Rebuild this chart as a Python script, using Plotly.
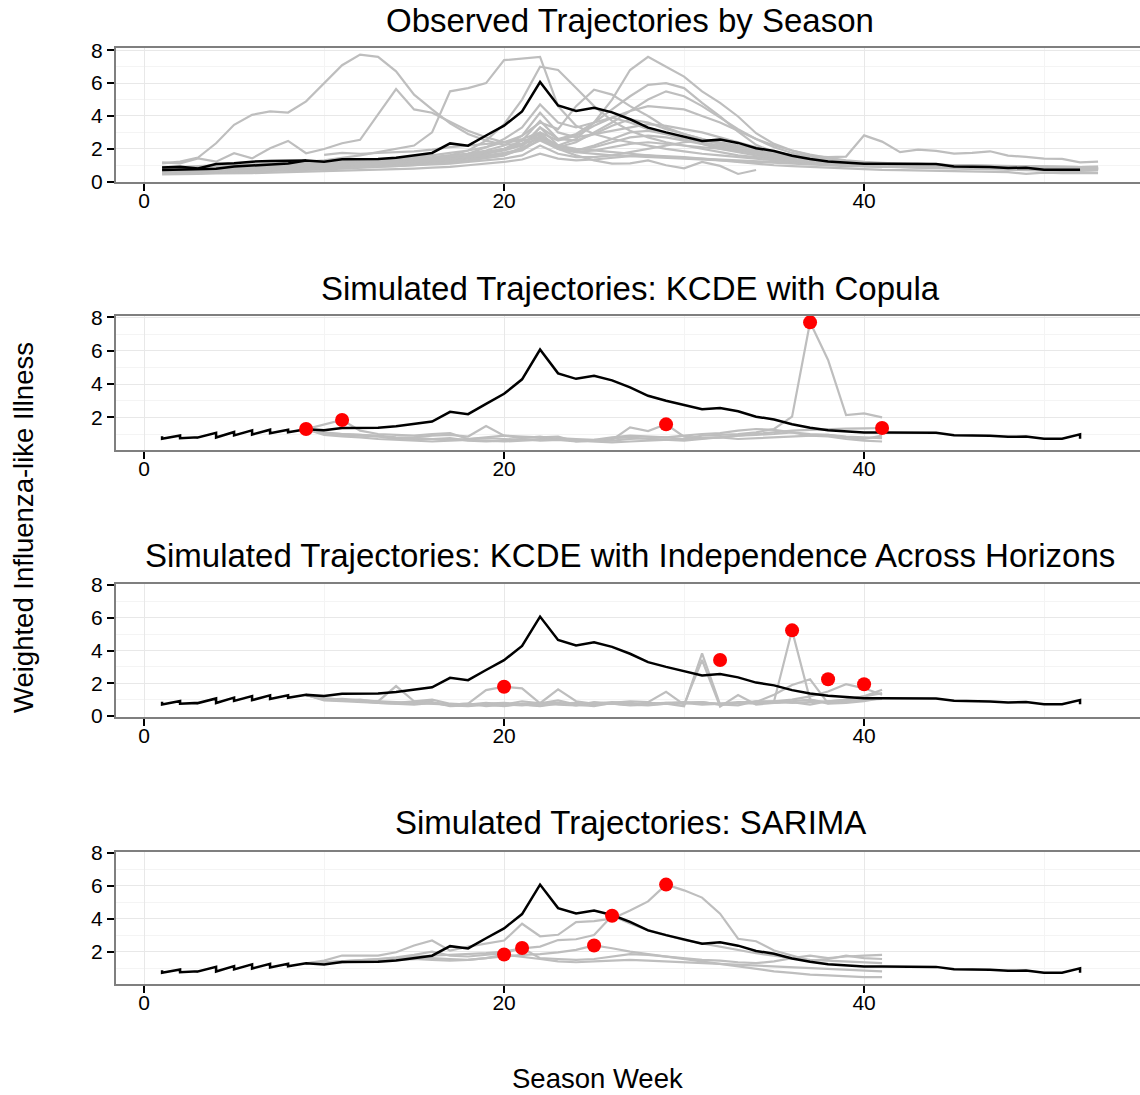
import plotly.graph_objects as go

# ---------------- current season (black line) ----------------
current_weeks = list(range(1, 53))
current_wili = [0.71, 0.75, 0.79, 0.79, 0.92, 0.97, 1.04, 1.11, 1.29, 1.22,
                1.36, 1.36, 1.38, 1.46, 1.59, 1.75, 2.33, 2.19, 2.81, 3.41,
                4.28, 6.07, 4.64, 4.31, 4.50, 4.22, 3.80, 3.29, 3.00, 2.72,
                2.48, 2.56, 2.36, 2.04, 1.87, 1.58, 1.38, 1.23, 1.15, 1.09,
                1.09, 1.07, 1.05, 1.07, 0.93, 0.92, 0.89, 0.83, 0.85, 0.72,
                0.72, 0.72]
# second reported value for the weeks that appear twice in the data
alt_weeks = [1, 2, 3, 4, 5, 6, 7, 8, 9, 52]
alt_wili = [0.87, 0.91, 0.80, 1.07, 1.12, 1.22, 1.26, 1.26, 1.29, 0.98]

# ---------------- past seasons (grey lines) ----------------
season_weeks = list(range(1, 54))
N = None
season_p = [1.12, 1.22, 1.47, 2.34, 3.46, 4.07, 4.28, 4.21, 4.89, 6.01,
            7.09, 7.74, 7.60, 6.72, 5.30, 4.40, 3.55, 2.90, 2.50, 2.25,
            2.30, 2.60, 2.00, 1.80, 1.70, 1.60, 1.55, 1.50, 1.45, 1.40,
            1.35, 1.30, 1.25, 1.20, 1.15, 1.10, 1.05, 1.00, 0.95, 0.95,
            0.92, 0.90, 0.90, 0.88, 0.85, 0.85, 0.82, 0.80, 0.80, 0.78,
            0.75, 0.75, 0.78]
season_q = [1.18, 1.12, 1.42, 1.22, 1.73, 1.42, 2.03, 2.48, 1.73, 1.99,
            2.34, 2.55, 4.10, 5.64, 4.40, 4.20, 3.65, 3.10, 2.70, 2.40,
            2.50, 2.70, 2.20, 2.00, 1.90, 1.80, 1.70, 1.60, 1.50, 1.45,
            1.40, 1.35, 1.30, 1.25, 1.20, 1.15, 1.10, 1.05, 1.00, 1.00,
            0.98, 0.95, 0.95, 0.92, 0.90, 0.90, 0.88, 0.85, 0.85, 0.82,
            0.80, 0.80, 0.82]
season_r = [0.80, 0.85, 0.90, 0.95, 1.00, 1.05, 1.10, 1.15, 1.20, 1.30,
            1.45, 1.60, 1.80, 2.00, 2.20, 3.00, 5.50, 5.70, 6.00, 7.40,
            7.50, 7.60, 4.60, 3.40, 2.90, 2.60, 2.40, 2.20, 2.00, 1.85,
            1.70, 1.60, 1.50, 1.40, 1.30, 1.20, 1.15, 1.10, 1.05, 1.00,
            0.98, 0.95, 0.92, 0.90, 0.90, 0.88, 0.85, 0.85, 0.82, 0.80,
            0.80, 0.78, 0.80]
season_t = [0.60, 0.60, 0.65, 0.70, 0.75, 0.80, 0.85, 0.90, 0.95, 1.00,
            1.05, 1.10, 1.15, 1.20, 1.30, 1.45, 1.60, 1.90, 2.50, 3.50,
            5.00, 7.00, 6.80, 5.70, 4.60, 3.70, 3.10, 2.70, 2.40, 2.20,
            2.00, 1.80, 1.60, 1.50, 1.40, 1.30, 1.20, 1.10, 1.05, 1.00,
            0.95, 0.90, 0.90, 0.85, 0.85, 0.80, 0.80, 0.75, 0.75, 0.72,
            0.70, 0.70, 0.72]
season_u = [0.50, 0.50, 0.55, 0.55, 0.60, 0.65, 0.70, 0.70, 0.75, 0.80,
            0.85, 0.90, 0.95, 1.00, 1.05, 1.10, 1.20, 1.30, 1.45, 1.60,
            2.00, 2.80, 2.20, 2.60, 3.60, 5.00, 6.80, 7.60, 7.00, 6.40,
            5.50, 4.80, 3.97, 2.95, 2.30, 1.90, 1.60, 1.40, 1.25, 1.15,
            1.10, 1.05, 1.00, 1.00, 0.95, 0.92, 0.90, 0.88, 0.85, 0.82,
            0.80, 0.78, 0.80]
season_u2 = [0.70, 0.72, 0.75, 0.80, 0.85, 0.90, 0.95, 1.00, 1.05, 1.10,
             1.15, 1.20, 1.25, 1.30, 1.35, 1.40, 1.50, 1.60, 1.70, 1.90,
             2.20, 3.30, 2.60, 2.90, 3.60, 4.40, 5.20, 5.90, 6.00, 5.70,
             4.80, 3.97, 3.05, 2.24, 1.80, 1.55, 1.40, 1.30, 1.20, 1.15,
             1.10, 1.05, 1.00, 1.00, 0.95, 0.95, 0.90, 0.90, 0.88, 0.85,
             0.85, 0.82, 0.85]
season_v = [0.80, 0.85, 0.90, 0.90, 0.95, 1.00, 1.05, 1.10, 1.15, 1.20,
            1.25, 1.30, 1.35, 1.40, 1.50, 1.60, 1.75, 1.90, 2.10, 2.40,
            2.80, 3.60, 3.20, 4.60, 5.60, 5.30, 4.60, 4.00, 3.30, 2.90,
            2.60, 2.30, 2.00, 1.80, 1.60, 1.45, 1.35, 1.25, 1.20, 1.15,
            1.10, 1.10, 1.05, 1.05, 1.00, 1.00, 0.95, 0.95, 0.92, 0.90,
            0.90, 0.88, 0.90]
season_u3 = [0.55, 0.55, 0.60, 0.62, 0.65, 0.70, 0.72, 0.75, 0.80, 0.85,
             0.90, 0.95, 1.00, 1.05, 1.10, 1.20, 1.30, 1.40, 1.55, 1.70,
             1.90, 2.60, 2.10, 2.40, 3.00, 3.60, 4.30, 5.00, 5.50, 5.20,
             4.60, 3.90, 3.20, 2.60, 2.10, 1.75, 1.50, 1.30, 1.20, 1.10,
             1.05, 1.00, 0.98, 0.95, 0.92, 0.90, 0.88, 0.85, 0.82, 0.80,
             0.80, 0.78, 0.80]
season_u4 = [0.90, 0.90, 0.95, 1.00, 1.00, 1.05, 1.10, 1.10, 1.15, 1.20,
             1.25, 1.30, 1.35, 1.40, 1.45, 1.50, 1.60, 1.70, 1.80, 2.00,
             2.30, 3.00, 2.50, 2.80, 3.40, 3.90, 4.30, 4.60, 4.50, 4.40,
             4.00, 3.60, 3.10, 2.60, 2.20, 1.90, 1.65, 1.45, 1.30, 1.20,
             1.15, 1.10, 1.10, 1.05, 1.00, 1.00, 0.98, 0.95, 0.92, 0.90,
             0.90, 0.88, 0.90]
season_b1 = [0.60, 0.62, 0.65, 0.70, 0.72, 0.75, 0.80, 0.85, 0.90, 0.95,
             1.00, 1.05, 1.10, 1.15, 1.20, 1.30, 1.45, 1.70, 2.10, 2.60,
             3.30, 4.70, 3.60, 3.30, 3.60, 3.90, 3.60, 3.20, 2.90, 2.60,
             2.30, 2.00, 1.80, 1.60, 1.45, 1.30, 1.20, 1.10, 1.00, 0.95,
             0.90, 0.90, 0.85, 0.85, 0.82, 0.80, 0.80, 0.78, 0.75, 0.75,
             0.72, 0.70, 0.72]
season_b2 = [0.75, 0.75, 0.80, 0.82, 0.85, 0.90, 0.95, 1.00, 1.00, 1.05,
             1.10, 1.15, 1.20, 1.25, 1.30, 1.40, 1.55, 1.70, 1.90, 2.20,
             2.80, 4.20, 3.00, 2.70, 2.90, 3.10, 3.30, 3.50, 3.40, 3.20,
             3.00, 2.70, 2.40, 2.10, 1.80, 1.60, 1.40, 1.30, 1.20, 1.10,
             1.05, 1.00, 1.00, 0.95, 0.95, 0.92, 0.90, 0.90, 0.88, 0.85,
             0.85, 0.82, 0.85]
season_b3 = [0.65, 0.65, 0.68, 0.70, 0.72, 0.75, 0.78, 0.80, 0.85, 0.90,
             0.95, 1.00, 1.05, 1.10, 1.15, 1.25, 1.35, 1.50, 1.70, 2.00,
             2.50, 3.70, 2.60, 2.50, 2.90, 3.40, 3.80, 3.60, 3.20, 2.90,
             2.60, 2.30, 2.10, 1.90, 1.70, 1.50, 1.35, 1.25, 1.15, 1.05,
             1.00, 0.98, 0.95, 0.92, 0.90, 0.88, 0.85, 0.82, 0.80, 0.78,
             0.78, 0.75, 0.78]
season_b4 = [0.50, 0.50, 0.52, 0.55, 0.58, 0.60, 0.62, 0.65, 0.70, 0.75,
             0.80, 0.85, 0.90, 0.95, 1.00, 1.10, 1.20, 1.30, 1.45, 1.60,
             2.10, 3.30, 2.20, 1.90, 2.10, 2.40, 2.70, 2.80, 2.70, 2.50,
             2.30, 2.10, 1.90, 1.70, 1.50, 1.35, 1.20, 1.10, 1.00, 0.95,
             0.90, 0.88, 0.85, 0.82, 0.80, 0.78, 0.75, 0.72, 0.70, 0.68,
             0.65, 0.65, 0.68]
season_b5 = [0.85, 0.85, 0.88, 0.90, 0.92, 0.95, 1.00, 1.00, 1.05, 1.10,
             1.15, 1.20, 1.25, 1.30, 1.35, 1.45, 1.55, 1.65, 1.80, 2.00,
             2.30, 2.90, 2.10, 1.80, 1.90, 2.10, 2.30, 2.40, 2.30, 2.20,
             2.10, 2.00, 1.90, 1.75, 1.60, 1.45, 1.35, 1.25, 1.20, 1.15,
             1.10, 1.05, 1.05, 1.00, 1.00, 0.98, 0.95, 0.95, 0.92, 0.90,
             0.90, 0.88, 0.90]
season_b6 = [0.60, 0.60, 0.62, 0.65, 0.68, 0.70, 0.72, 0.75, 0.78, 0.80,
             0.85, 0.90, 0.92, 0.95, 1.00, 1.05, 1.10, 1.20, 1.30, 1.40,
             1.60, 2.20, 1.70, 1.50, 1.50, 1.60, 1.80, 2.00, 2.20, 2.40,
             2.50, 2.40, 2.20, 2.00, 1.80, 1.60, 1.45, 1.30, 1.20, 1.10,
             1.05, 1.00, 0.95, 0.92, 0.90, 0.88, 0.85, 0.82, 0.80, 0.78,
             0.76, 0.75, 0.76]
season_late = [0.70, 0.70, 0.72, 0.75, 0.78, 0.80, 0.85, 0.90, 0.95, 1.00,
               1.05, 1.10, 1.15, 1.20, 1.25, 1.30, 1.40, 1.50, 1.60, 1.75,
               2.00, 2.50, 2.00, 1.90, 2.20, 2.60, 3.00, 3.10, 2.90, 2.60,
               2.40, 2.20, 2.00, 1.80, 1.70, 1.60, 1.55, 1.50, 1.53, 2.82,
               2.44, 1.80, 1.95, 1.87, 1.71, 1.75, 1.85, 1.59, 1.51, 1.40,
               1.39, 1.18, 1.22]
season_short = [N, N, N, N, N, N, N, N, N, 1.63,
                1.75, 1.70, 1.75, 1.80, 1.85, 1.95, 2.10, 2.20, 2.30, 2.40,
                2.60, 3.00, 2.00, 1.60, 1.30, 1.10, 1.12, 1.30, 1.00, 0.81,
                1.20, 0.96, 0.47, 0.71, N, N, N, N, N, N,
                N, N, N, N, N, N, N, N, N, N,
                N, N, N]
season_low = [0.45, 0.45, 0.48, 0.50, 0.50, 0.52, 0.55, 0.58, 0.60, 0.62,
              0.65, 0.70, 0.72, 0.75, 0.80, 0.85, 0.90, 1.00, 1.10, 1.20,
              1.35, 1.70, 1.40, 1.30, 1.35, 1.45, 1.55, 1.60, 1.55, 1.50,
              1.40, 1.30, 1.20, 1.10, 1.00, 0.95, 0.90, 0.85, 0.80, 0.75,
              0.72, 0.70, 0.68, 0.65, 0.62, 0.60, 0.60, 0.58, 0.48, 0.55,
              0.52, 0.50, 0.52]
past_seasons = [season_p, season_q, season_r, season_t, season_u, season_u2,
                season_v, season_u3, season_u4, season_b1, season_b2, season_b3,
                season_b4, season_b5, season_b6, season_late, season_short,
                season_low]

# ---------------- simulated trajectories (weeks 9-41) ----------------
sim_weeks = list(range(9, 42))

copula_trajectories = [
    [1.29, 1.00, 0.95, 0.90, 0.85, 0.70, 0.65, 0.70, 0.75, 0.60, 0.55,
     0.60, 0.70, 0.60, 0.65, 0.55, 0.60, 0.75, 0.80, 0.70, 0.65, 0.60,
     0.70, 0.80, 0.90, 0.95, 1.00, 1.10, 0.90, 0.85, 0.70, 0.60, 0.55],
    [1.29, 1.58, 1.84, 1.20, 1.00, 0.95, 0.90, 1.00, 1.05, 0.70, 0.80,
     0.90, 0.75, 0.85, 0.70, 0.60, 0.65, 0.80, 0.90, 0.85, 0.80, 0.90,
     1.00, 1.05, 1.20, 1.30, 1.25, 1.10, 1.00, 0.95, 0.85, 0.80, 0.75],
    [1.29, 1.10, 1.00, 0.95, 0.85, 0.75, 0.80, 0.90, 0.95, 0.85, 1.48,
     0.90, 0.85, 0.80, 0.85, 0.55, 0.60, 0.65, 1.40, 1.18, 1.58, 0.84,
     0.75, 0.80, 0.70, 0.75, 0.80, 0.85, 0.90, 0.95, 0.80, 0.70, 0.90],
    [1.29, 1.05, 1.00, 0.95, 0.90, 0.80, 0.75, 0.70, 0.65, 0.70, 0.75,
     0.70, 0.65, 0.70, 0.75, 0.70, 0.65, 0.60, 0.70, 0.75, 0.80, 0.70,
     0.90, 0.95, 1.00, 1.10, 1.30, 2.04, 7.70, 5.44, 2.14, 2.24, 2.00],
    [1.29, 0.95, 0.85, 0.80, 0.70, 0.65, 0.60, 0.55, 0.60, 0.65, 0.60,
     0.55, 0.60, 0.65, 0.70, 0.60, 0.55, 0.50, 0.55, 0.60, 0.65, 0.70,
     0.75, 0.80, 0.90, 1.00, 1.10, 1.20, 1.25, 1.30, 1.32, 1.34, 1.36],
]
copula_peak_weeks = [9, 11, 29, 37, 41]
copula_peak_wili = [1.30, 1.84, 1.58, 7.70, 1.36]

indep_trajectories = [
    [1.29, 1.00, 1.05, 0.95, 0.90, 1.83, 0.90, 0.85, 0.60, 0.65, 0.70,
     0.60, 0.75, 0.80, 0.70, 0.65, 0.85, 0.75, 0.70, 0.80, 0.75, 0.60,
     3.83, 0.70, 0.65, 0.90, 0.80, 0.85, 0.70, 0.90, 1.00, 1.20, 1.60],
    [1.29, 1.05, 0.95, 1.00, 0.85, 0.80, 0.90, 1.00, 0.75, 0.70, 0.80,
     0.70, 0.90, 0.78, 0.95, 0.70, 0.60, 0.80, 0.90, 0.85, 1.48, 0.70,
     3.42, 0.57, 1.28, 0.70, 0.80, 0.90, 1.00, 0.80, 0.90, 1.00, 1.10],
    [1.29, 0.95, 0.90, 0.85, 0.80, 0.75, 0.70, 0.80, 0.65, 0.60, 0.70,
     0.65, 0.70, 0.60, 0.75, 0.80, 0.70, 0.75, 0.65, 0.70, 0.80, 0.75,
     0.85, 0.70, 0.80, 0.90, 0.90, 5.23, 1.00, 0.75, 0.80, 0.90, 1.10],
    [1.29, 1.10, 1.00, 0.95, 0.90, 0.85, 0.80, 0.75, 0.70, 0.75, 0.60,
     0.70, 0.65, 0.75, 0.80, 0.65, 0.70, 0.80, 0.70, 0.75, 0.80, 0.85,
     0.80, 0.75, 0.85, 0.85, 1.30, 1.89, 2.24, 0.77, 1.00, 1.20, 1.40],
    [1.29, 1.00, 0.95, 0.90, 0.80, 0.75, 0.85, 0.80, 0.70, 0.65, 0.75,
     0.80, 0.70, 0.65, 0.75, 0.70, 0.80, 0.75, 0.70, 0.65, 0.75, 0.80,
     0.70, 0.75, 0.80, 0.85, 0.90, 1.00, 1.20, 1.50, 1.94, 1.69, 1.30],
    [1.29, 1.05, 1.00, 0.90, 0.85, 0.80, 0.75, 0.80, 0.70, 0.75, 1.58,
     1.79, 1.69, 0.78, 1.63, 0.90, 0.75, 0.85, 0.80, 0.70, 0.75, 0.80,
     0.85, 0.70, 0.80, 0.75, 0.90, 0.80, 0.85, 0.90, 0.95, 1.00, 1.05],
]
indep_peak_weeks = [20, 32, 36, 38, 40]
indep_peak_wili = [1.79, 3.42, 5.23, 2.24, 1.94]

sarima_trajectories = [
    [1.29, 1.45, 1.76, 1.76, 1.76, 1.96, 2.37, 2.67, 2.06, 2.30, 2.50,
     2.67, 3.69, 2.93, 3.02, 3.79, 3.85, 4.00, 4.50, 5.05, 6.07, 5.72,
     5.28, 4.30, 2.78, 2.63, 2.06, 1.76, 1.45, 1.55, 1.75, 1.60, 1.55],
    [1.29, 1.35, 1.45, 1.50, 1.55, 1.60, 1.70, 1.75, 1.80, 1.85, 1.90,
     2.00, 2.20, 2.30, 2.70, 2.75, 3.00, 4.18, 3.70, 3.30, 3.00, 2.70,
     2.50, 2.30, 2.10, 1.90, 1.75, 1.60, 1.50, 1.45, 1.40, 1.35, 1.30],
    [1.29, 1.30, 1.35, 1.40, 1.45, 1.50, 1.55, 1.60, 1.55, 1.50, 1.60,
     1.70, 1.80, 1.85, 1.95, 2.10, 2.37, 2.20, 2.00, 1.85, 1.70, 1.55,
     1.40, 1.25, 1.10, 0.95, 0.80, 0.70, 0.60, 0.55, 0.50, 0.45, 0.45],
    [1.29, 1.35, 1.40, 1.50, 1.55, 1.65, 1.80, 2.00, 1.75, 1.70, 1.80,
     1.90, 2.22, 1.60, 1.55, 1.50, 1.55, 1.70, 1.85, 1.80, 1.70, 1.60,
     1.50, 1.45, 1.35, 1.30, 1.40, 1.60, 1.75, 1.60, 1.70, 1.75, 1.80],
    [1.29, 1.30, 1.35, 1.40, 1.45, 1.50, 1.55, 1.50, 1.45, 1.50, 1.60,
     1.82, 1.70, 1.55, 1.40, 1.35, 1.40, 1.45, 1.50, 1.45, 1.40, 1.35,
     1.30, 1.25, 1.20, 1.15, 1.10, 1.05, 1.00, 0.95, 0.90, 0.85, 0.80],
]
sarima_peak_weeks = [20, 21, 25, 26, 29]
sarima_peak_wili = [1.82, 2.22, 2.37, 4.18, 6.07]

panel_titles = ["Observed Trajectories by Season",
                "Simulated Trajectories: KCDE with Copula",
                "Simulated Trajectories: KCDE with Independence Across Horizons",
                "Simulated Trajectories: SARIMA"]
x_tick_values = [0, 20, 40]
x_label = "Season Week"
y_label = "Weighted Influenza-like Illness"

# ---------------- styling ----------------
FONT = "Liberation Sans, Arial, Helvetica, sans-serif"
GREY_LINE = "#bebebe"
BORDER = "#7f7f7f"
W, H = 1140, 1095

# panel boxes in pixels: (top, bottom)
panel_px = [(48, 182), (316, 450), (584, 716.5), (852, 984)]
y_ranges = [[-0.02, 8.14], [0.04, 8.08], [-0.03, 8.06], [0.03, 8.05]]
y_ticks = [[0, 2, 4, 6, 8], [2, 4, 6, 8], [0, 2, 4, 6, 8], [2, 4, 6, 8]]
title_centre_px = [20, 288, 555, 822]

# merged current-season series, as used in the simulated panels
merged_x, merged_y = [], []
alt_lookup = dict(zip(alt_weeks, alt_wili))
for wk, val in zip(current_weeks, current_wili):
    if wk in alt_lookup:
        merged_x.append(wk)
        merged_y.append(alt_lookup[wk])
    merged_x.append(wk)
    merged_y.append(val)

fig = go.Figure()


def axis_names(i):
    return ("x" if i == 0 else f"x{i+1}", "y" if i == 0 else f"y{i+1}")


def add_grey(i, xs, ys):
    xa, ya = axis_names(i)
    fig.add_trace(go.Scatter(x=xs, y=ys, mode="lines",
                             line=dict(color=GREY_LINE, width=2.2),
                             xaxis=xa, yaxis=ya, hoverinfo="skip",
                             showlegend=False, connectgaps=False))


def add_black(i, xs, ys):
    xa, ya = axis_names(i)
    fig.add_trace(go.Scatter(x=xs, y=ys, mode="lines",
                             line=dict(color="black", width=2.5),
                             xaxis=xa, yaxis=ya, hoverinfo="skip",
                             showlegend=False))


def add_red(i, xs, ys):
    xa, ya = axis_names(i)
    fig.add_trace(go.Scatter(x=xs, y=ys, mode="markers",
                             marker=dict(color="#ff0000", size=14),
                             xaxis=xa, yaxis=ya, hoverinfo="skip",
                             showlegend=False))


# panel 1: observed seasons
for s in past_seasons:
    add_grey(0, season_weeks, s)
add_black(0, current_weeks, current_wili)
add_black(0, alt_weeks[:9], alt_wili[:9])

# simulated panels
sim_sets = [(copula_trajectories, copula_peak_weeks, copula_peak_wili),
            (indep_trajectories, indep_peak_weeks, indep_peak_wili),
            (sarima_trajectories, sarima_peak_weeks, sarima_peak_wili)]
for k, (trajs, pw, pv) in enumerate(sim_sets, start=1):
    for t in trajs:
        add_grey(k, sim_weeks, t)
    add_black(k, merged_x, merged_y)
    add_red(k, pw, pv)

layout = dict(width=W, height=H, margin=dict(l=0, r=0, t=0, b=0, autoexpand=False),
              paper_bgcolor="white", plot_bgcolor="white",
              font=dict(family=FONT, color="black"), showlegend=False)

annotations = []
for i in range(4):
    top, bot = panel_px[i]
    xa, ya = axis_names(i)
    xkey = "xaxis" if i == 0 else f"xaxis{i+1}"
    ykey = "yaxis" if i == 0 else f"yaxis{i+1}"
    layout[xkey] = dict(
        domain=[116 / W, 1.0], range=[-1.56, 55.33], anchor=ya,
        automargin=False,
        tickvals=x_tick_values, ticks="outside", ticklen=7, tickwidth=1.5,
        tickcolor="black", tickfont=dict(size=21, color="black", family=FONT),
        ticklabelstandoff=-8,
        showline=True, linecolor=BORDER, linewidth=2, mirror=True,
        showgrid=True, gridcolor="#e8e8e8", gridwidth=1, zeroline=False,
        minor=dict(tickvals=[10, 30, 50], showgrid=True, gridcolor="#f4f4f4",
                   gridwidth=1, ticks=""),
    )
    layout[ykey] = dict(
        domain=[1 - bot / H, 1 - top / H], range=y_ranges[i], anchor=xa,
        automargin=False,
        tickvals=y_ticks[i], ticks="outside", ticklen=7, tickwidth=1.5,
        tickcolor="black", tickfont=dict(size=21, color="black", family=FONT),
        showline=True, linecolor=BORDER, linewidth=2, mirror=False,
        showgrid=True, gridcolor="#e8e8e8", gridwidth=1, zeroline=False,
        minor=dict(tickvals=[1, 3, 5, 7], showgrid=True, gridcolor="#f4f4f4",
                   gridwidth=1, ticks=""),
    )
    annotations.append(dict(text=panel_titles[i], xref="paper", yref="paper",
                            x=630 / W, y=1 - title_centre_px[i] / H,
                            xanchor="center", yanchor="middle", showarrow=False,
                            font=dict(size=33, color="black", family=FONT)))

annotations.append(dict(text=x_label, xref="paper", yref="paper",
                        x=597 / W, y=1 - 1078 / H, xanchor="center",
                        yanchor="middle", showarrow=False,
                        font=dict(size=27.5, color="black", family=FONT)))
annotations.append(dict(text=y_label, xref="paper", yref="paper",
                        x=23 / W, y=1 - 528 / H, xanchor="center",
                        yanchor="middle", showarrow=False, textangle=-90,
                        font=dict(size=27.5, color="black", family=FONT)))
layout["annotations"] = annotations

fig.update_layout(**layout)
fig.write_html("out.html")
